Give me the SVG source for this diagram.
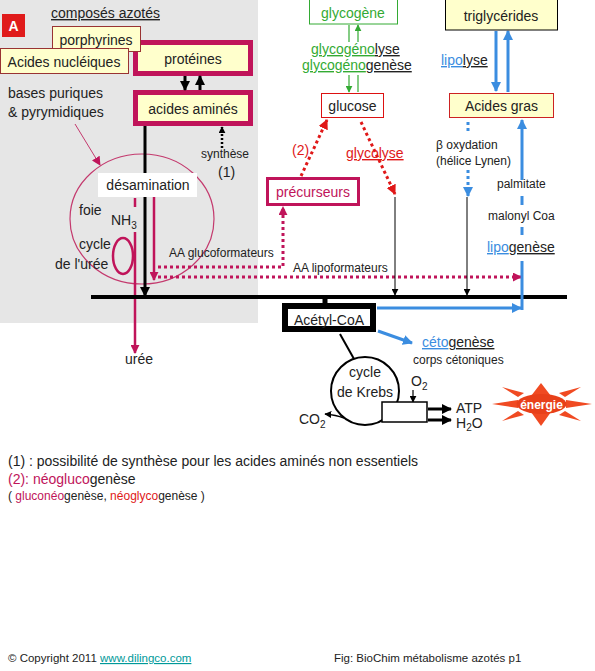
<svg xmlns="http://www.w3.org/2000/svg" width="595" height="671" viewBox="0 0 595 671">
<defs>
<style>
text{font-family:"Liberation Sans",Arial,sans-serif;font-size:14px;fill:#222}
.s12{font-size:12px}
.s11{font-size:11.5px}
.c{text-anchor:middle}
.u{text-decoration:underline}
.mag{fill:#c0145a}
.red{fill:#e01818}
.grn{fill:#33aa33}
.blu{fill:#3b8de0}
.ybox{fill:#ffffcc;stroke:#993333;stroke-width:1}
.mbox{fill:#ffffcc;stroke:#c0145a;stroke-width:5}
</style>
<marker id="ak" viewBox="0 0 10 10" refX="9" refY="5" markerUnits="userSpaceOnUse" markerWidth="10" markerHeight="10" orient="auto"><path d="M0,0 L10,5 L0,10 z" fill="#000"/></marker>
<marker id="aks" viewBox="0 0 10 10" refX="9" refY="5" markerUnits="userSpaceOnUse" markerWidth="7" markerHeight="7" orient="auto"><path d="M0,0 L10,5 L0,10 z" fill="#000"/></marker>
<marker id="am" viewBox="0 0 10 10" refX="9" refY="5" markerUnits="userSpaceOnUse" markerWidth="9" markerHeight="9" orient="auto"><path d="M0,0 L10,5 L0,10 z" fill="#c0145a"/></marker>
<marker id="ar" viewBox="0 0 10 10" refX="9" refY="5" markerUnits="userSpaceOnUse" markerWidth="10" markerHeight="10" orient="auto"><path d="M0,0 L10,5 L0,10 z" fill="#e01818"/></marker>
<marker id="ag" viewBox="0 0 10 10" refX="9" refY="5" markerUnits="userSpaceOnUse" markerWidth="7" markerHeight="7" orient="auto"><path d="M0,0 L10,5 L0,10 z" fill="#33aa33"/></marker>
<marker id="ab" viewBox="0 0 10 10" refX="9" refY="5" markerUnits="userSpaceOnUse" markerWidth="10" markerHeight="10" orient="auto"><path d="M0,0 L10,5 L0,10 z" fill="#3b8de0"/></marker>
</defs>

<rect x="0" y="0" width="258" height="323" fill="#e6e6e6"/>

<g id="label-A"><rect x="2" y="14" width="23" height="23" fill="#e01b1b"/><text x="13.5" y="31" class="c" style="fill:#fff;font-weight:bold">A</text></g>
<text x="51" y="18" class="u">composés azotés</text>

<g id="proteines"><rect x="135.5" y="42.5" width="115" height="31" class="mbox"/><text x="193" y="64" class="c">protéines</text></g>
<g id="acides-amines"><rect x="135.5" y="92.5" width="115" height="31" class="mbox"/><text x="193" y="114" class="c">acides aminés</text></g>
<g id="porphyrines"><rect x="52.5" y="26.5" width="88" height="25" class="ybox"/><text x="96" y="45" class="c">porphyrines</text></g>
<g id="acides-nucleiques"><rect x="0.5" y="48.5" width="128" height="25" class="ybox"/><text x="64" y="67" class="c">Acides nucléiques</text></g>

<g id="bases"><text x="8" y="98">bases puriques</text><text x="8" y="117">&amp; pyrymidiques</text></g>

<g id="foie">
<ellipse cx="142" cy="219" rx="72" ry="65" fill="none" stroke="#c43a6e" stroke-width="1.2"/>
<ellipse cx="123" cy="256" rx="10" ry="18" fill="none" stroke="#c0145a" stroke-width="2.5"/>
<text x="79" y="215">foie</text>
<text x="111" y="225">NH<tspan dy="4" style="font-size:10px">3</tspan></text>
<text x="79" y="249">cycle</text>
<text x="55" y="269">de l'urée</text>
<text x="125" y="364">urée</text>
</g>

<g id="connectors">
<line x1="185" y1="76" x2="185" y2="90" stroke="#000" stroke-width="3" marker-end="url(#ak)"/>
<line x1="200" y1="90" x2="200" y2="76" stroke="#000" stroke-width="3" marker-end="url(#ak)"/>
<line x1="222" y1="148" x2="222" y2="127" stroke="#000" stroke-width="2.5" stroke-dasharray="2 2" marker-end="url(#aks)"/>
<line x1="145" y1="126" x2="145" y2="296" stroke="#000" stroke-width="3" marker-end="url(#ak)"/>
<line x1="75" y1="124" x2="100" y2="165" stroke="#c43a6e" stroke-width="1" marker-end="url(#am)"/>
<line x1="135" y1="198" x2="135" y2="207" stroke="#c0145a" stroke-width="2.5"/>
<line x1="135" y1="232" x2="135" y2="353" stroke="#c0145a" stroke-width="2.5" marker-end="url(#am)"/>
<line x1="154" y1="197" x2="154" y2="280" stroke="#c0145a" stroke-width="2.5" marker-end="url(#am)"/>
<polyline points="158,267 283,267 283,207" fill="none" stroke="#c0145a" stroke-width="3" stroke-dasharray="3 3" marker-end="url(#am)"/>
<line x1="158" y1="277" x2="521" y2="277" stroke="#c0145a" stroke-width="3" stroke-dasharray="3 3" marker-end="url(#am)"/>
<line x1="91" y1="297" x2="567" y2="297" stroke="#000" stroke-width="4"/>
<line x1="325" y1="297" x2="325" y2="304" stroke="#000" stroke-width="5"/>
<line x1="349" y1="25" x2="349" y2="42" stroke="#33aa33" stroke-width="1.2"/>
<line x1="358" y1="42" x2="358" y2="25" stroke="#33aa33" stroke-width="1.2" marker-end="url(#ag)"/>
<line x1="349" y1="75" x2="349" y2="92" stroke="#33aa33" stroke-width="1.2" marker-end="url(#ag)"/>
<line x1="358" y1="75" x2="358" y2="92" stroke="#33aa33" stroke-width="1.2"/>
<line x1="301" y1="176" x2="327" y2="120" stroke="#e01818" stroke-width="3" stroke-dasharray="3 3" marker-end="url(#ar)"/>
<line x1="361" y1="122" x2="395" y2="194" stroke="#e01818" stroke-width="3" stroke-dasharray="3 3" marker-end="url(#ar)"/>
<line x1="395" y1="197" x2="395" y2="295" stroke="#000" stroke-width="1" marker-end="url(#aks)"/>
<line x1="467" y1="197" x2="467" y2="295" stroke="#000" stroke-width="1" marker-end="url(#aks)"/>
<line x1="496" y1="31" x2="496" y2="91" stroke="#3b8de0" stroke-width="3" marker-end="url(#ab)"/>
<line x1="508" y1="92" x2="508" y2="31" stroke="#3b8de0" stroke-width="3" marker-end="url(#ab)"/>
<line x1="468" y1="122" x2="468" y2="134" stroke="#3b8de0" stroke-width="3" stroke-dasharray="3 3"/>
<line x1="468" y1="170" x2="468" y2="196" stroke="#3b8de0" stroke-width="3" stroke-dasharray="3 3" marker-end="url(#ab)"/>
<line x1="522" y1="180" x2="522" y2="120" stroke="#3b8de0" stroke-width="3" marker-end="url(#ab)"/>
<line x1="522" y1="196" x2="522" y2="205" stroke="#3b8de0" stroke-width="3"/>
<line x1="522" y1="227" x2="522" y2="235" stroke="#3b8de0" stroke-width="3"/>
<line x1="522" y1="261" x2="522" y2="310" stroke="#3b8de0" stroke-width="3"/>
<line x1="377" y1="308" x2="521" y2="308" stroke="#3b8de0" stroke-width="3" marker-end="url(#ab)"/>
<line x1="378" y1="331" x2="412" y2="343" stroke="#3b8de0" stroke-width="3" marker-end="url(#ab)"/>
<line x1="340" y1="334" x2="354" y2="359" stroke="#000" stroke-width="2"/>
<line x1="413" y1="390" x2="413" y2="402" stroke="#000" stroke-width="1.2" marker-end="url(#aks)"/>
<line x1="428" y1="409" x2="451" y2="409" stroke="#000" stroke-width="3" marker-end="url(#ak)"/>
<line x1="428" y1="420" x2="451" y2="420" stroke="#000" stroke-width="3" marker-end="url(#ak)"/>
<path d="M344,418 Q336,415 325,414" fill="none" stroke="#000" stroke-width="1.5" marker-end="url(#aks)"/>
</g>

<g id="desamination"><rect x="98" y="173" width="99" height="24" fill="#fff"/><text x="148" y="190" class="c">désamination</text></g>
<g id="synthese"><text x="201" y="158" class="s12">synthèse</text><text x="218" y="177">(1)</text></g>
<text x="169" y="257" class="s12">AA glucoformateurs</text>
<text x="293" y="272" class="s12">AA lipoformateurs</text>

<g id="glycogene"><rect x="309.5" y="-1" width="88" height="25" fill="#fff" stroke="#33aa33" stroke-width="1"/><text x="353" y="18" class="c grn">glycogène</text></g>
<text x="311" y="54"><tspan class="grn u">glycogéno</tspan><tspan class="u">lyse</tspan></text>
<text x="302" y="70"><tspan class="grn u">glycogéno</tspan><tspan class="u">genèse</tspan></text>
<g id="glucose"><rect x="321.5" y="93.5" width="62" height="24" fill="#fff" stroke="#dd1111" stroke-width="1"/><text x="352.5" y="111" class="c">glucose</text></g>
<text x="292" y="155" class="red">(2)</text>
<text x="346" y="158" class="red u">glycolyse</text>
<g id="precurseurs"><rect x="267.5" y="178.5" width="91" height="26" fill="#fff" stroke="#c0145a" stroke-width="3"/><text x="313" y="197" class="c mag">précurseurs</text></g>

<g id="triglycerides"><rect x="445.5" y="-1" width="112" height="31" fill="#ffffcc" stroke="#000" stroke-width="1"/><text x="501" y="21" class="c">triglycérides</text></g>
<text x="441" y="65"><tspan class="blu u">lipo</tspan><tspan class="u">lyse</tspan></text>
<g id="acides-gras"><rect x="449.5" y="93.5" width="104" height="24" fill="#ffffcc" stroke="#cc2222" stroke-width="1"/><text x="501.5" y="111" class="c">Acides gras</text></g>
<text x="436" y="149" class="s12">β oxydation</text>
<text x="436" y="165" class="s12">(hélice Lynen)</text>
<text x="497" y="188" class="s12">palmitate</text>
<text x="488" y="220" class="s12">malonyl Coa</text>
<text x="487" y="252"><tspan class="blu u">lipo</tspan><tspan class="u">genèse</tspan></text>

<g id="acetyl-coa"><rect x="285" y="306" width="88" height="23" fill="#fff" stroke="#000" stroke-width="6"/><text x="329" y="325" class="c">Acétyl-CoA</text></g>
<text x="422" y="347"><tspan class="blu u">céto</tspan><tspan class="u">genèse</tspan></text>
<text x="413" y="364" class="s12">corps cétoniques</text>

<g id="krebs">
<circle cx="365" cy="391" r="34" fill="#fff" stroke="#000" stroke-width="2"/>
<text x="365" y="377" class="c">cycle</text>
<text x="365" y="397" class="c">de Krebs</text>
<rect x="382" y="402" width="45" height="20" fill="#fff" stroke="#000" stroke-width="1.5"/>
<text x="411" y="386">O<tspan dy="4" style="font-size:10px">2</tspan></text>
<text x="456" y="413">ATP</text>
<text x="456" y="428">H<tspan dy="3" style="font-size:10px">2</tspan><tspan dy="-3">O</tspan></text>
<text x="299" y="424">CO<tspan dy="4" style="font-size:10px">2</tspan></text>
</g>

<g id="energie">
<g fill="#f04a22">
<polygon points="492,404 518,400 518,408"/>
<polygon points="592,404 566,400 566,408"/>
<polygon points="541,383 531,396 551,396"/>
<polygon points="541,426 531,412 551,412"/>
<polygon points="502,387 518,397 524,393"/>
<polygon points="581,387 565,397 559,393"/>
<polygon points="502,421 518,411 524,415"/>
<polygon points="581,421 565,411 559,415"/>
</g>
<ellipse cx="541.5" cy="404" rx="25" ry="10" fill="#e8401a"/>
<text x="541.5" y="408.5" class="c" style="fill:#fff;font-weight:bold;font-size:12px">énergie</text>
</g>

<g id="notes">
<text x="8" y="466">(1) : possibilité de synthèse pour les acides aminés non essentiels</text>
<text x="8" y="484"><tspan class="mag">(2): néogluco</tspan>genèse</text>
<text x="8" y="500" class="s12">( <tspan class="mag">gluconéo</tspan>genèse, <tspan class="red">néoglyco</tspan>genèse )</text>
</g>
<text x="8" y="662" class="s11">© Copyright 2011 <tspan class="u" style="fill:#009999">www.dilingco.com</tspan></text>
<text x="334" y="662" class="s11">Fig: BioChim métabolisme azotés p1</text>
</svg>
